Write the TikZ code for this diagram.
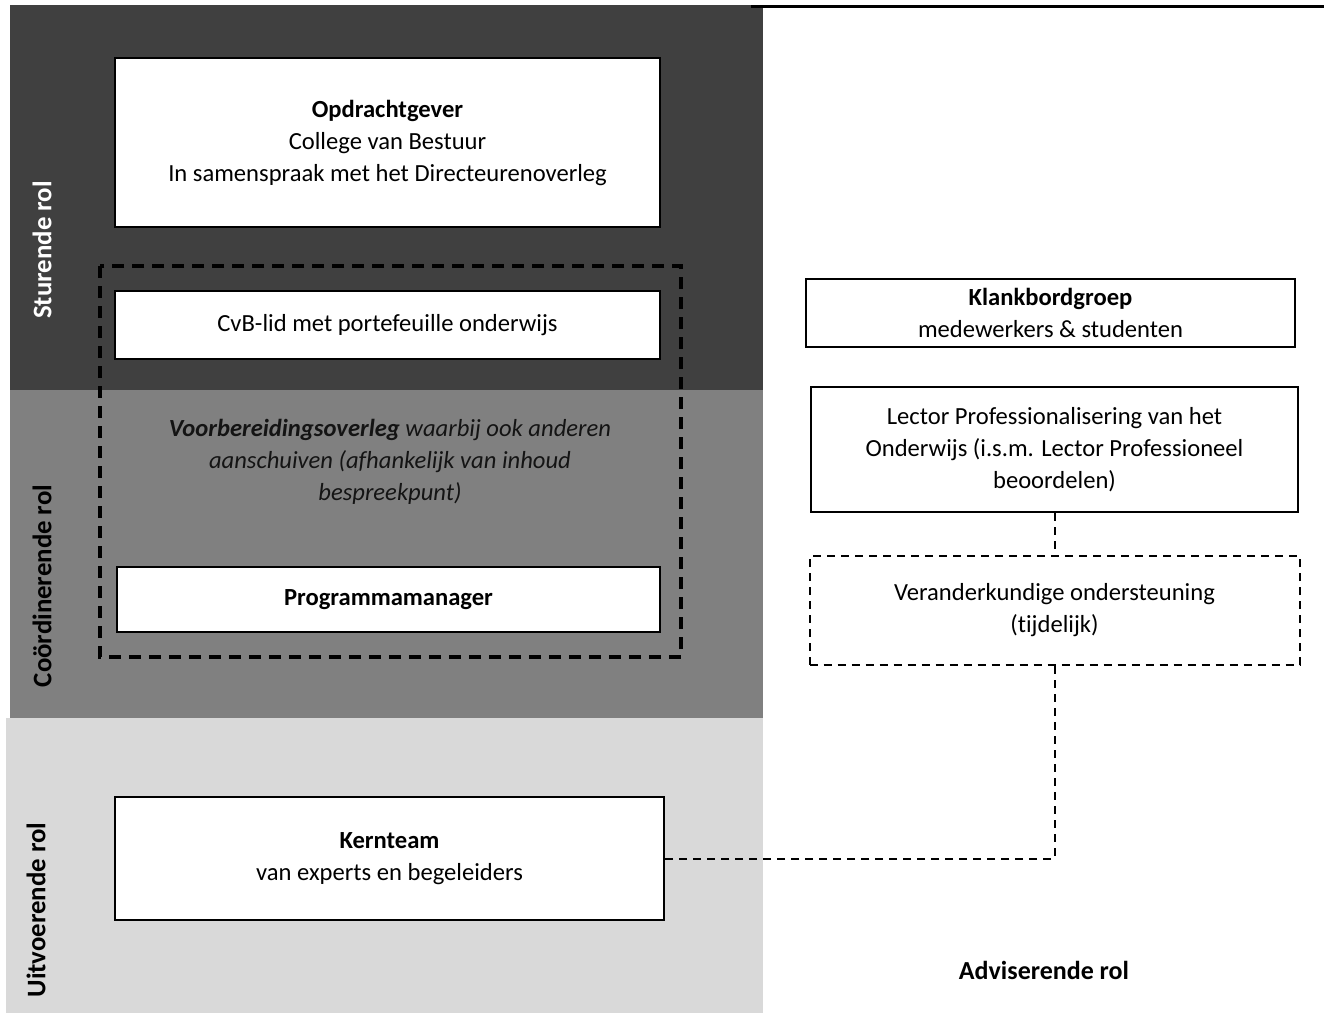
\documentclass[tikz,border=0pt]{standalone}
\usepackage{fontspec}
\setmainfont{Carlito}[Ligatures=NoCommon]
\usepackage{tikz}
\usetikzlibrary{calc}

\definecolor{donker}{HTML}{404040}
\definecolor{midden}{HTML}{808080}
\definecolor{licht}{HTML}{D9D9D9}

\begin{document}
\begin{tikzpicture}[x=0.5pt,y=-0.5pt,
    box/.style={draw=black,line width=1pt,fill=white,align=center,inner sep=0pt,font=\fontsize{12.3}{16}\selectfont},
    advbox/.style={box,dash pattern=on 4pt off 3pt},
    rol/.style={rotate=90,font=\fontsize{13.4}{16}\selectfont\bfseries},
    conn/.style={line width=1pt,dash pattern=on 4pt off 3pt}]
        \useasboundingbox (0,0) rectangle (1324,1013);

        %%% BANDS %%%
        \fill[donker] (10,5) rectangle (763,390);
        \fill[midden] (10,390) rectangle (763,718);
        \fill[licht] (6,718) rectangle (763,1013);
        \draw[line width=1.5pt] (751,6) -- (1324,6);

        %%% ROLES %%%
        \node[rol,white] (sturend) at (42,250) {Sturende rol};
        \node[rol] (coord) at (42,586) {Coördinerende rol};
        \node[rol] (uitvoer) at (36,910) {Uitvoerende rol};
        \node[font=\fontsize{13}{16}\selectfont\bfseries] (advies) at (1044,970) {Adviserende rol};

        %%% OVERLEG %%%
        \draw[line width=2pt,dash pattern=on 6pt off 4pt] (100,266) rectangle (681,657);
        \node[align=center,font=\fontsize{12.3}{16}\selectfont\itshape,text=black!92] (overleg) at (390,462)
            {\textbf{Voorbereidingsoverleg} waarbij ook anderen\\aanschuiven (afhankelijk van inhoud\\bespreekpunt)};

        %%% BOXES %%%
        \node[box,minimum width=272.5pt,minimum height=84.5pt] (opdracht) at (387.5,142.5)
            {\textbf{Opdrachtgever}\\College van Bestuur\\In samenspraak met het Directeurenoverleg};
        \node[box,minimum width=272.5pt,minimum height=34pt] (cvb) at (387.5,325) {CvB-lid met portefeuille onderwijs};
        \node[box,minimum width=271.5pt,minimum height=32.5pt] (pm) at (388.5,599.5) {\textbf{Programmamanager}};
        \node[box,minimum width=274.5pt,minimum height=61.5pt] (kern) at (389.5,858.5)
            {\textbf{Kernteam}\\van experts en begeleiders};

        \node[box,minimum width=244.5pt,minimum height=34pt] (klank) at (1050.5,313)
            {\textbf{Klankbordgroep}\\medewerkers \& studenten};
        \node[box,minimum width=243.5pt,minimum height=62.5pt] (lector) at (1054.5,449.5)
            {Lector Professionalisering van het\\Onderwijs (i.s.m. Lector Professioneel\\beoordelen)};
        \node[advbox,minimum width=245pt,minimum height=54.5pt] (verander) at (1054.5,610.5)
            {Veranderkundige ondersteuning\\(tijdelijk)};

        %%% LINES %%%
        \draw[conn] (lector) -- (verander);
        \draw[conn] (verander.south) |- (kern.east);
\end{tikzpicture}
\end{document}
